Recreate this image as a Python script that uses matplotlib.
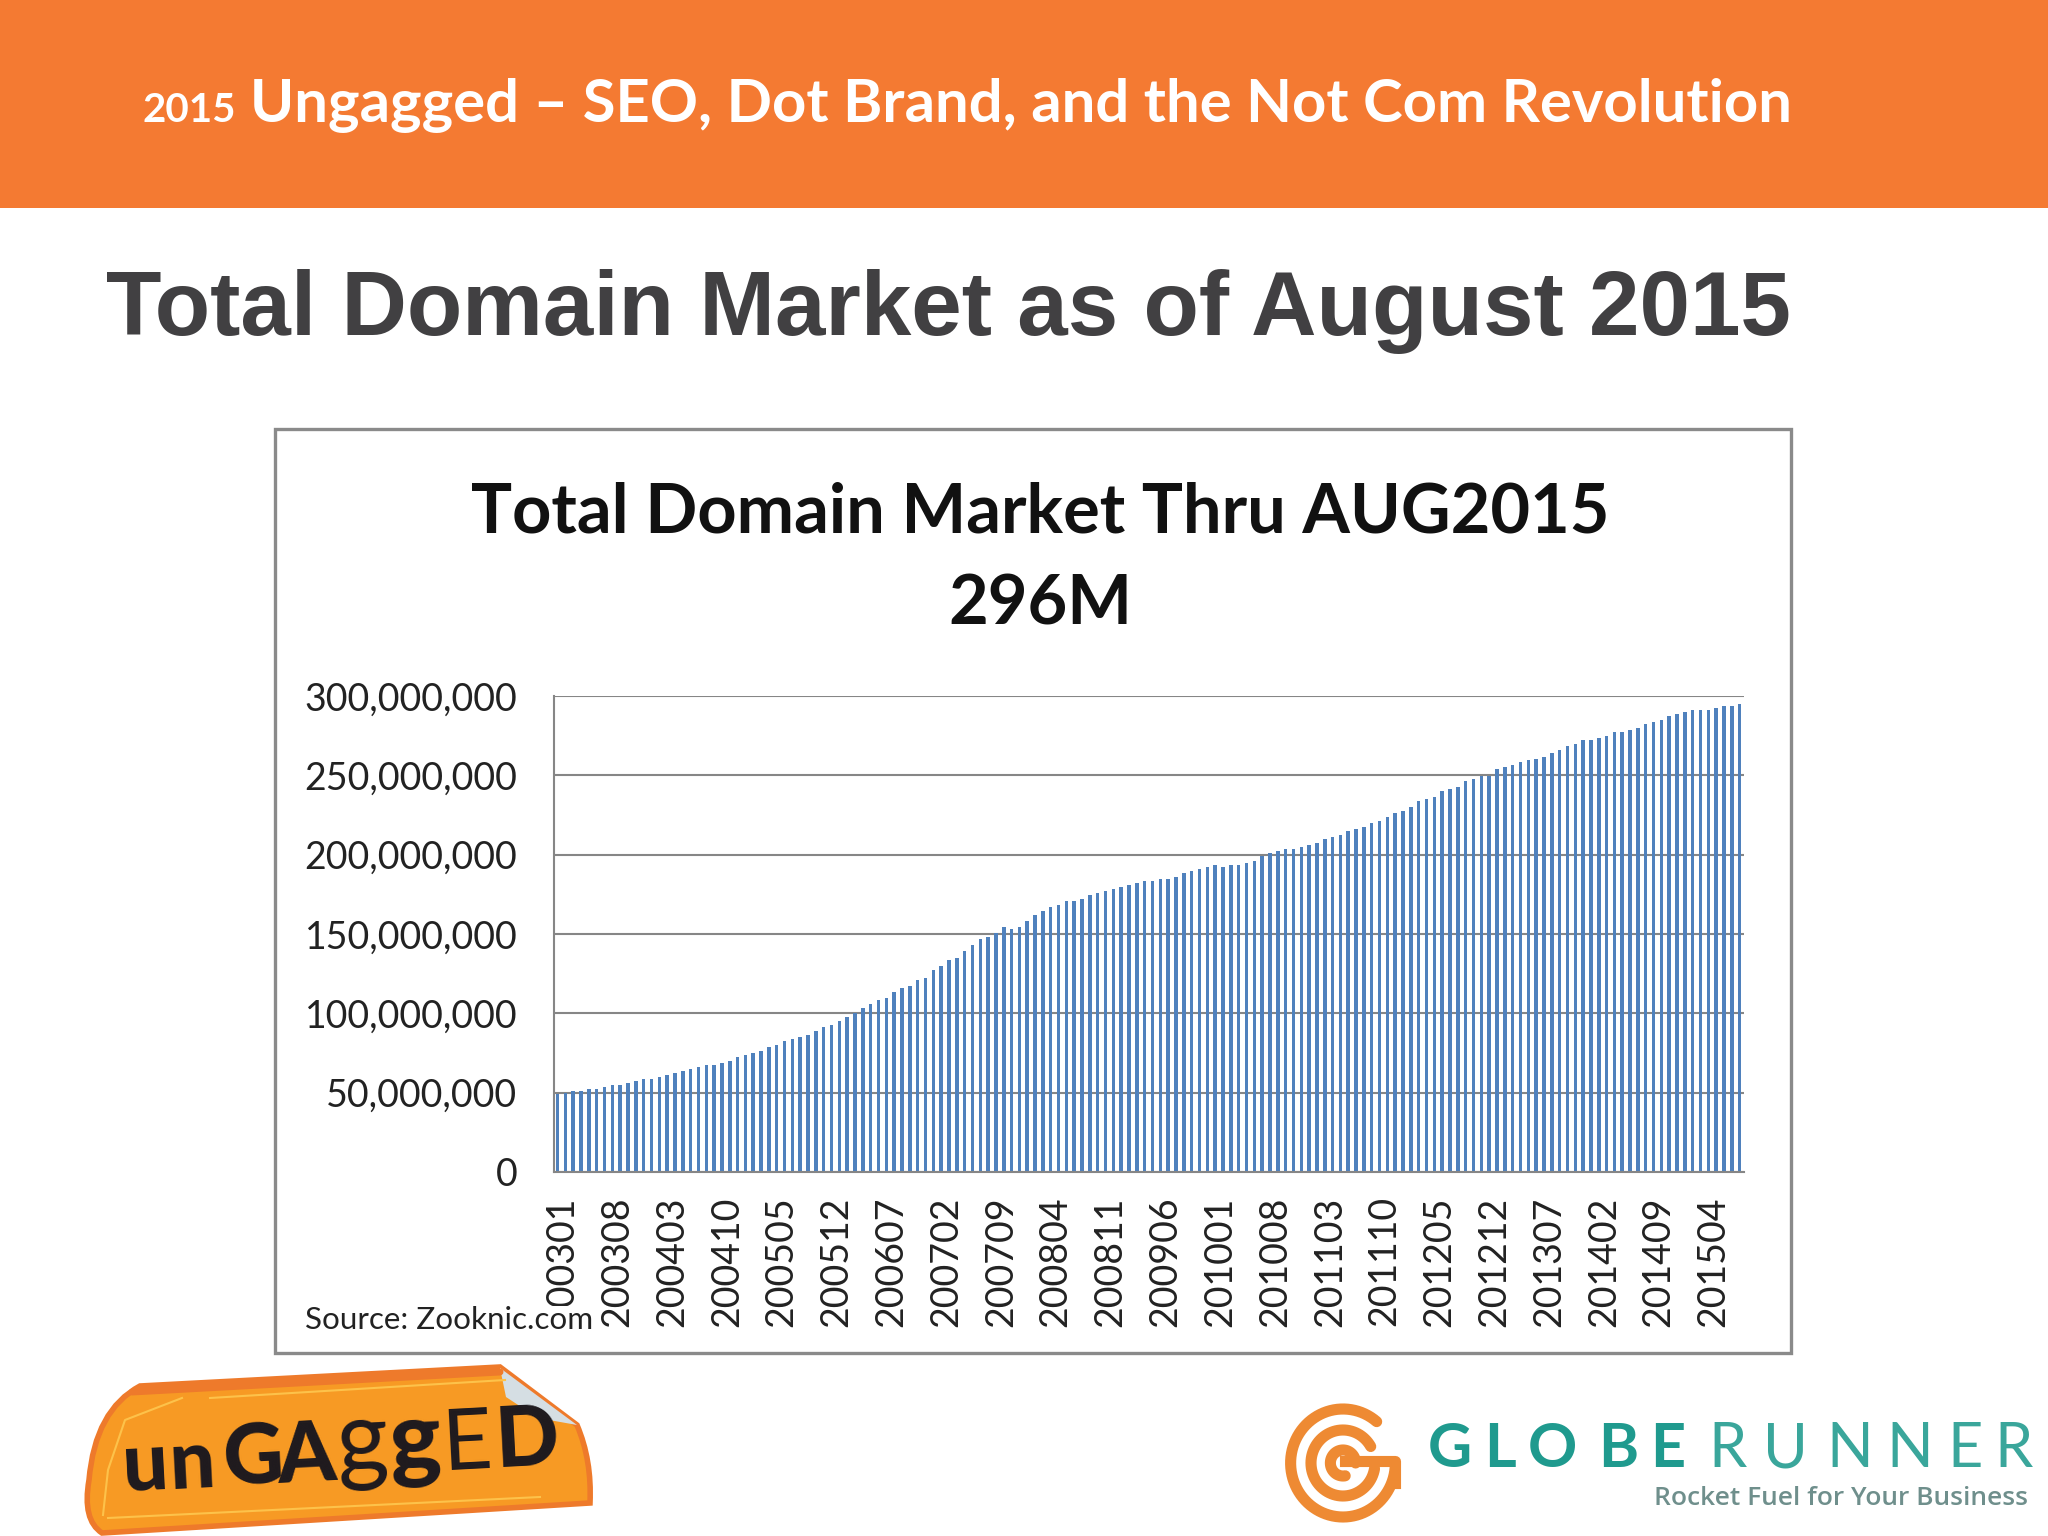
import numpy as np
import matplotlib
matplotlib.use('Agg')
import matplotlib.pyplot as plt
from matplotlib.patches import Rectangle, PathPatch, Polygon
from matplotlib.path import Path
from matplotlib.ticker import StrMethodFormatter

# domains registered per month, millions (200301 .. 201508)
domains_2003_2008 = [
    49.4, 49.8, 51.0, 51.0, 52.3, 52.3, 53.6, 54.8, 54.8, 56.0, 57.4, 58.6,
    58.6, 59.9, 61.3, 62.6, 63.9, 65.1, 66.4, 67.6, 67.6, 68.9, 70.2, 72.7,
    73.9, 75.2, 76.5, 79.0, 80.3, 82.8, 84.0, 85.3, 86.6, 89.1, 91.6, 92.9,
    95.4, 97.9, 100.4, 103.2, 105.9, 108.4, 109.7, 113.4, 116.0, 117.2, 121.0, 122.3,
    127.3, 129.8, 133.6, 134.9, 139.0, 142.9, 146.6, 147.9, 150.4, 154.2, 152.9, 154.2,
    158.0, 161.8, 164.3, 166.8, 168.1, 170.6, 170.6, 171.8, 174.3, 175.6,
]
domains_2008_2015 = [
    176.9, 178.2, 179.4, 180.7, 181.9, 183.2, 183.2, 184.5, 184.5, 185.7,
    188.2, 189.5, 190.8, 192.0, 193.3, 192.0, 193.3, 193.3, 194.5, 195.8,
    199.2, 200.8, 202.1, 203.4, 203.4, 204.6, 205.9, 207.1, 209.7, 210.9,
    212.2, 214.7, 216.0, 217.6, 220.2, 221.4, 223.9, 226.5, 227.7, 230.3,
    234.0, 235.3, 236.6, 240.3, 241.6, 242.9, 246.6, 247.9, 249.6, 249.6,
    254.2, 255.5, 256.7, 258.2, 259.5, 260.5, 261.8, 264.3, 265.8, 268.3,
    269.5, 272.1, 272.1, 273.3, 274.6, 277.1, 277.1, 278.4, 279.6, 282.1,
    283.4, 284.7, 287.2, 288.4, 289.7, 291.0, 291.0, 291.0, 292.2, 293.5,
    293.5, 295.2,
]
month_labels = ['200301', '200308', '200403', '200410', '200505', '200512', '200607', '200702',
                '200709', '200804', '200811', '200906', '201001', '201008', '201103', '201110',
                '201205', '201212', '201307', '201402', '201409', '201504']
y_ticks = [0, 50000000, 100000000, 150000000, 200000000, 250000000, 300000000]

W, H = 2048, 1536
ORANGE = '#F47A32'
GRID = '#868686'
BAR = '#4F81BD'
TEAL = '#1F9A8E'

domains = np.array(domains_2003_2008 + domains_2008_2015) * 1e6

fig = plt.figure(figsize=(W / 100, H / 100), dpi=100, facecolor='white')

# slide layer, in pixels
bg = fig.add_axes([0, 0, 1, 1])
bg.set_xlim(0, W)
bg.set_ylim(H, 0)
bg.axis('off')

bg.add_patch(Rectangle((0, 0), W, 208, color=ORANGE, lw=0))
bg.text(142, 122, '2015', color='white', fontsize=29, family='Lato', weight='bold')
bg.text(250, 122, 'Ungagged – SEO, Dot Brand, and the Not Com Revolution',
        color='white', fontsize=43, family='Lato', weight='bold')
bg.text(106, 312, 'Total Domain Market as of August 2015', color='#414042',
        fontsize=65.3, family='Liberation Sans', weight='bold', va='center')

bg.add_patch(Rectangle((274.5, 428.5), 1516, 924, fc='white', ec='#8A8A8A', lw=2.4))
bg.text(1040, 513, 'Total Domain Market Thru AUG2015', ha='center', va='center',
        fontsize=49.3, family='Lato', weight='bold', color='#111111')
bg.text(1040, 605, '296M', ha='center', va='center',
        fontsize=49.3, family='Lato', weight='bold', color='#111111')

# chart
ax = fig.add_axes([553.6 / W, 1 - 1172 / H, 1190 / W, 476 / H])
ax.set_facecolor('none')
x = np.arange(len(domains))
ax.bar(x, domains, width=0.45, color=BAR, zorder=3)
ax.set_xlim(-0.5, len(domains) - 0.5)
ax.set_ylim(0, 300000000)
ax.set_yticks(y_ticks)
ax.yaxis.set_major_formatter(StrMethodFormatter('{x:,.0f}'))
# labels sit a little right of their bars in the original
ax.set_xticks(x[::7] + 0.64)
ax.set_xticklabels(month_labels, rotation=90, family='Lato', fontsize=27, color='#222222')
for lab in ax.get_yticklabels():
    lab.set_family('Lato')
    lab.set_fontsize(27)
    lab.set_color('#222222')
ax.tick_params(axis='both', length=0)
ax.tick_params(axis='x', pad=17.5)
ax.tick_params(axis='y', pad=26)
ax.grid(axis='y', color=GRID, lw=1.5, zorder=1)
for side in ['top', 'right']:
    ax.spines[side].set_visible(False)
for side in ['left', 'bottom']:
    ax.spines[side].set_color(GRID)
    ax.spines[side].set_linewidth(1.5)
    ax.spines[side].set_zorder(4)

# source note sits on top of the first tick label
top = fig.add_axes([0, 0, 1, 1])
top.set_xlim(0, W)
top.set_ylim(H, 0)
top.axis('off')
top.patch.set_alpha(0)
top.text(305, 1320, 'Source: Zooknic.com', fontsize=22.6, family='Lato', color='#222222', va='center',
         bbox=dict(fc='white', ec='none', pad=0))

# unGAggED sticker
verts = [(140, 1386), (500, 1367), (577, 1425), (592, 1460), (590, 1503),
         (102, 1533), (82, 1520), (89, 1480), (95, 1410), (140, 1386), (140, 1386)]
codes = [Path.MOVETO, Path.LINETO, Path.LINETO, Path.CURVE3, Path.CURVE3,
         Path.LINETO, Path.CURVE3, Path.CURVE3, Path.CURVE3, Path.CURVE3, Path.CLOSEPOLY]
top.add_patch(PathPatch(Path(verts, codes), fc='#F79A24', ec='#EE7A2B', lw=4))
top.plot([132, 500], [1392, 1372], color='#EE7A2B', lw=5, solid_capstyle='round')
top.add_patch(Polygon([(500, 1368), (577, 1425), (538, 1418), (506, 1397)], fc='#D5DEE3', ec='none'))
top.plot([103, 108, 125, 182], [1515, 1470, 1420, 1398], color='#FDC24A', lw=1.5)
top.plot([210, 505], [1398, 1380], color='#FDC24A', lw=1.5)
top.plot([108, 540], [1518, 1497], color='#FDC24A', lw=1.5)

logo_letters = [('u', 124, 1491, 'black', 58), ('n', 170, 1489, 'black', 58), ('G', 224, 1486, 'black', 60),
                ('A', 279, 1483, 'black', 60), ('g', 338, 1474, 'normal', 72), ('g', 391, 1472, 'black', 70),
                ('E', 443, 1470, 'normal', 62), ('D', 497, 1467, 'black', 60)]
for ch, lx, ly, w, size in logo_letters:
    top.text(lx, ly, ch, fontsize=size, family='Lato', weight=w, rotation=3,
             rotation_mode='anchor', color='#1E1A1E')

# GlobeRunner mark and wordmark
gx, gy = 1343, 1463
for r, a0, a1 in [(54, 50, 355), (33, 30, 350), (13, 0, 280)]:
    t = np.radians(np.linspace(a0, a1, 80))
    top.plot(gx + r * np.cos(t) * 0.97, gy - r * np.sin(t), color='#EE8A33', lw=8, solid_capstyle='round')
top.plot([gx + 2, gx + 52, gx + 52], [gy - 2, gy - 2, gy + 20], color='#EE8A33', lw=8)

for ch, lx in zip('GLOBE', [1428, 1484, 1528, 1598, 1650]):
    top.text(lx, 1467, ch, fontsize=44, family='Lato', weight='bold', color=TEAL)
for ch, lx in zip('RUNNER', [1708, 1763, 1826, 1886, 1947, 1994]):
    top.text(lx, 1467, ch, fontsize=44, family='Lato', weight='normal', color='#3AA69B')
top.text(1654, 1505, 'Rocket Fuel for Your Business', fontsize=19, family='Open Sans',
         color='#6F8F8C', weight='semibold')

fig.savefig('out.png', dpi=100)
